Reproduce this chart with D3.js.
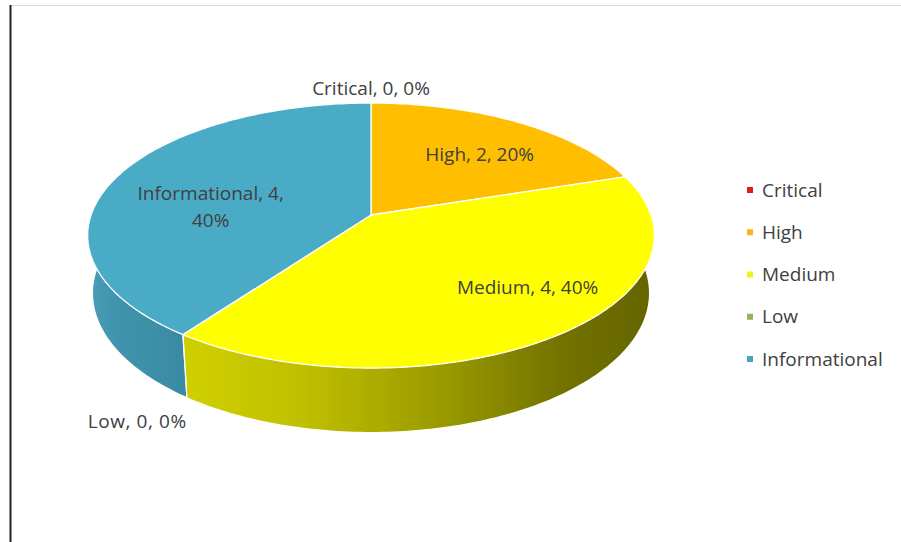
<!DOCTYPE html>
<html>
<head>
<meta charset="utf-8">
<script src="https://cdn.jsdelivr.net/npm/d3@7/dist/d3.min.js"></script>
<style>
  html, body { margin: 0; padding: 0; background: #fff; }
  svg { display: block; }
  text { font-family: "Open Sans", "Noto Sans", sans-serif; }
</style>
</head>
<body>
<svg id="chart" width="901" height="542"></svg>
<script>
// ---- data ----
const categories = ["Critical", "High", "Medium", "Low", "Informational"];
const values = [0, 2, 4, 0, 4];

// ---- styles ----
const topColors = ["#e8141b", "#ffbf00", "#ffff00", "#9bbb59", "#4aabc6"];
const legendColors = ["#e01a1f", "#f9b51a", "#f2f21c", "#94b259", "#45a7bf"];

const W = 901, H = 542;
const svg = d3.select("#chart");

// frame
svg.append("line").attr("x1", 10).attr("x2", W).attr("y1", 5.5).attr("y2", 5.5)
  .attr("stroke", "#d9d9d9").attr("stroke-width", 1);
svg.append("line").attr("x1", 10.5).attr("x2", 10.5).attr("y1", 5).attr("y2", H)
  .attr("stroke", "#222").attr("stroke-width", 2);

// ---- 3D perspective projection ----
const cx = 371, cy = 215, F = 1604, D = 5.73;
const sinP = 0.462, cosP = 0.887, depth = 0.234;
function proj(r, a, y) {
  const x3 = r * Math.sin(a), z3 = -r * Math.cos(a);
  const v = y * cosP - z3 * sinP;
  const d = D - (y * sinP + z3 * cosP);
  return [cx + F * x3 / d, cy - F * v / d];
}
function arcPts(r, a0, a1, y) {
  const n = Math.max(2, Math.ceil(Math.abs(a1 - a0) / (Math.PI / 180)));
  return d3.range(n + 1).map(i => proj(r, a0 + (a1 - a0) * i / n, y));
}
const line = d3.line();

const totals = d3.sum(values);
const pie = d3.pie().sort(null).value(d => d.value).startAngle(0).endAngle(2 * Math.PI);
const arcs = pie(categories.map((c, i) => ({ cat: c, value: values[i], i })));

// front-facing range of the outer wall
const frontCos = -1 / (D * cosP);
const frontA0 = Math.acos(frontCos), frontA1 = 2 * Math.PI - frontA0;

const defs = svg.append("defs");
const sideStops = {
  "Medium": [[0, "#d0d000"], [0.25, "#c0c000"], [0.55, "#9a9a00"], [0.8, "#737300"], [1, "#646400"]],
  "Informational": [[0, "#4a9db6"], [0.3, "#4194ad"], [1, "#3a8aa3"]],
  "High": [[0, "#c89600"], [1, "#8a6800"]],
  "Critical": [[0, "#b00000"], [1, "#700000"]],
  "Low": [[0, "#7a9444"], [1, "#56692f"]]
};
arcs.forEach(a => {
  const lo = Math.max(a.startAngle, frontA0), hi = Math.min(a.endAngle, frontA1);
  let xs = [proj(1, frontA1, 0)[0], proj(1, frontA0, 0)[0]];
  if (hi > lo) {
    const pts = arcPts(1, lo, hi, 0);
    xs = d3.extent(pts, p => p[0]);
  }
  const g = defs.append("linearGradient").attr("id", "side" + a.data.i)
    .attr("gradientUnits", "userSpaceOnUse")
    .attr("x1", xs[0]).attr("x2", xs[1]).attr("y1", 0).attr("y2", 0);
  sideStops[a.data.cat].forEach(s => g.append("stop").attr("offset", s[0]).attr("stop-color", s[1]));
});

const gPie = svg.append("g");
// side walls
arcs.filter(a => a.value > 0).forEach(a => {
  const pts = arcPts(1, a.startAngle, a.endAngle, 0)
    .concat(arcPts(1, a.endAngle, a.startAngle, -depth));
  gPie.append("path").attr("d", line(pts) + "Z")
    .attr("fill", `url(#side${a.data.i})`);
});
// visible boundaries on the side wall
arcs.filter(a => a.value > 0).forEach(a => {
  [a.startAngle, a.endAngle].forEach(ang => {
    if (Math.cos(ang) < frontCos) {
      const p0 = proj(1, ang, 0), p1 = proj(1, ang, -depth);
      gPie.append("line").attr("x1", p0[0]).attr("y1", p0[1]).attr("x2", p1[0]).attr("y2", p1[1])
        .attr("stroke", "#ffffff").attr("stroke-width", 1.2).attr("opacity", 0.9);
    }
  });
});
// top faces
arcs.filter(a => a.value > 0).forEach(a => {
  const pts = [proj(0, 0, 0)].concat(arcPts(1, a.startAngle, a.endAngle, 0));
  gPie.append("path").attr("d", line(pts) + "Z")
    .attr("fill", topColors[a.data.i])
    .attr("stroke", "#ffffff").attr("stroke-width", 1.3).attr("stroke-linejoin", "round");
});

// ---- data labels ----
const nudge = { High: [14, 0], Medium: [46, 2], Informational: [0, 2] };
const gLab = svg.append("g").attr("font-size", 19).attr("fill", "#404040");
arcs.forEach(a => {
  const c = a.data.cat;
  const pct = Math.round(a.value / totals * 100) + "%";
  const txt = `${c}, ${a.value}, ${pct}`;
  const mid = (a.startAngle + a.endAngle) / 2;
  if (a.value > 0) {
    const p = proj(0.62, mid, 0);
    const n = nudge[c] || [0, 0];
    const x = p[0] + n[0], y = p[1] + n[1];
    if (c === "Informational") {
      const t = gLab.append("text").attr("text-anchor", "middle").attr("x", x).attr("y", y);
      t.append("tspan").attr("x", x).attr("dy", "0.35em").text(`${c}, ${a.value},`);
      t.append("tspan").attr("x", x).attr("dy", "1.42em").text(pct);
    } else {
      gLab.append("text").attr("text-anchor", "middle").attr("x", x).attr("y", y)
        .attr("dy", "0.35em").text(txt);
    }
  } else {
    const ang = a.startAngle;
    if (Math.cos(ang) < frontCos) {
      const p = proj(1, ang, -depth);
      gLab.append("text").attr("text-anchor", Math.sin(ang) < 0 ? "end" : "start")
        .attr("x", p[0]).attr("y", p[1] + 24).attr("dy", "0.35em")
        .attr("letter-spacing", 0.6).text(txt);
    } else {
      const p = proj(1.1, ang, 0);
      gLab.append("text").attr("text-anchor", "middle")
        .attr("x", p[0]).attr("y", p[1] - 5).attr("dy", "0.35em").text(txt);
    }
  }
});

// ---- legend ----
const ly = d3.scalePoint().domain(categories).range([190, 359]);
const gLeg = svg.append("g").attr("font-size", 19).attr("fill", "#404040");
categories.forEach((c, i) => {
  gLeg.append("rect").attr("x", 747).attr("y", ly(c) - 3).attr("width", 6).attr("height", 6)
    .attr("fill", legendColors[i]);
  gLeg.append("text").attr("x", 762).attr("y", ly(c)).attr("dy", "0.35em").text(c);
});
</script>
</body>
</html>
